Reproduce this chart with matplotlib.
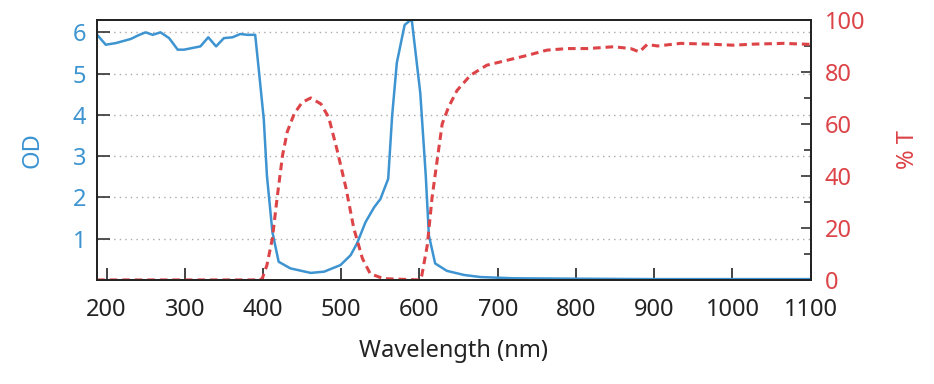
import numpy as np
from matplotlib import pyplot as plt
from matplotlib.ticker import MultipleLocator

plt.rcParams['font.family'] = ['Noto Sans', 'DejaVu Sans']

# optical density trace (left axis)
wlOD = [188, 199, 212, 231, 242, 250, 259, 269, 280, 291, 299, 320, 330, 340, 350, 361, 371, 380,
        390, 395, 401, 405, 412, 420, 435, 461, 478, 499, 512, 520, 531, 542, 550, 560, 565, 571,
        581, 590, 601, 608, 612, 620, 635, 657, 678, 720, 800, 900, 1000, 1100]
od = [5.94, 5.70, 5.74, 5.84, 5.94, 6.00, 5.94, 6.00, 5.86, 5.58, 5.58, 5.66, 5.88, 5.66, 5.86, 5.88,
      5.96, 5.94, 5.94, 5.02, 3.89, 2.53, 1.16, 0.44, 0.28, 0.17, 0.20, 0.36, 0.60, 0.88, 1.40, 1.76,
      1.96, 2.45, 3.97, 5.26, 6.18, 6.32, 4.53, 2.53, 1.08, 0.40, 0.22, 0.12, 0.07, 0.04, 0.03, 0.02,
      0.02, 0.02]

# transmission trace (right axis)
wlT = [188, 395, 399, 405, 412, 418, 425, 431, 440, 450, 461, 474, 484, 495, 506, 516, 527, 537, 554,
       600, 603, 610, 616, 623, 629, 637, 648, 665, 686, 712, 738, 763, 789, 815, 848, 870, 881, 891,
       904, 934, 970, 1001, 1027, 1065, 1100]
trans = [0, 0, 0.5, 5.7, 16, 31.5, 48, 57, 64, 68.3, 70, 67.7, 62.5, 49.6, 35.4, 19.9, 8.3, 2.4, 0.5,
         0, 1.8, 13.4, 31.5, 47, 60, 66.4, 72.9, 78.7, 82.6, 84.5, 86.4, 88.4, 89, 89, 89.7, 89, 87.7,
         90.6, 90, 91, 90.7, 90.3, 90.7, 91, 90.6]

blue = '#3d94d1'
red = '#dc4448'
fs = 17

fig = plt.figure(figsize=(9.34, 3.84), dpi=100)
ax1 = fig.add_axes([0.104, 0.271, 0.764, 0.677])
ax2 = ax1.twinx()

ax1.plot(wlOD, od, color=blue, lw=1.8)
ax2.plot(wlT, trans, color=red, lw=2.2, dashes=(2.5, 1.6))

ax1.set_xlim(188, 1100)
ax1.set_ylim(0, 6.3)
ax2.set_ylim(0, 100)

ax1.set_xticks(np.arange(200, 1101, 100))
ax1.set_yticks(np.arange(1, 7))
ax2.yaxis.set_major_locator(MultipleLocator(20))
ax2.yaxis.set_minor_locator(MultipleLocator(10))

ax1.grid(axis='y', color='#aaaaaa', linestyle=(0, (1, 3)), lw=1)

ax1.tick_params(axis='x', direction='in', length=9, width=1.2, labelsize=fs, pad=13, colors='#222222')
ax1.tick_params(axis='y', direction='in', length=9, width=1.2, labelsize=fs, pad=8,
                labelcolor=blue, color='#333333')
ax2.tick_params(axis='y', which='major', direction='in', length=7, width=1.2, labelsize=fs,
                pad=10, labelcolor=red, color='#333333')
ax2.tick_params(axis='y', which='minor', direction='in', length=5, width=1.2, color='#333333')

for ax in (ax1, ax2):
    for sp in ax.spines.values():
        sp.set_color('#222222')
        sp.set_linewidth(1.3)

ax1.set_xlabel('Wavelength (nm)', fontsize=fs, color='#222222', labelpad=12)
ax1.set_ylabel('OD', fontsize=fs, color=blue, labelpad=20)
ax2.set_ylabel('% T', fontsize=fs, color=red, labelpad=22)

fig.savefig('out.png', dpi=100)
